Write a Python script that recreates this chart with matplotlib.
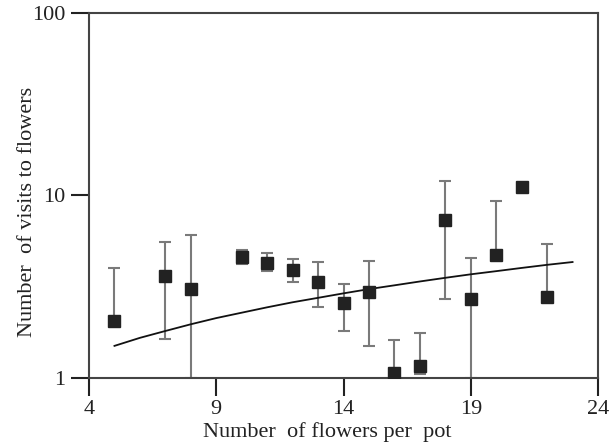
import matplotlib
matplotlib.use('Agg')
import matplotlib.pyplot as plt
import matplotlib.ticker as mticker
import numpy as np

plt.rcParams['font.family'] = ['Liberation Serif', 'DejaVu Serif']

# mean visits per flower count, with error bar ends
flowers = [5, 7, 8, 10, 11, 12, 13, 14, 15, 16, 17, 18, 19, 20, 21, 22]
visits = [2.05, 3.62, 3.07, 4.6, 4.27, 3.9, 3.36, 2.58, 2.96, 1.06, 1.16, 7.34, 2.71, 4.72, 11.1, 2.78]
err_top = [4.0, 5.56, 6.08, 5.03, 4.84, 4.49, 4.32, 3.27, 4.38, 1.62, 1.77, 12.0, 4.54, 9.33, 11.6, 5.42]
err_bottom = [2.05, 1.64, 1.0, 4.2, 3.86, 3.36, 2.45, 1.81, 1.5, 1.06, 1.05, 2.71, 1.0, 4.72, 10.6, 2.78]

# fitted trend line, read at each integer x
fit_x = [5, 6, 7, 8, 9, 10, 11, 12, 13, 14, 15, 16, 17, 18, 19, 20, 21, 22, 23]
fit_y = [1.50, 1.66, 1.81, 1.97, 2.13, 2.28, 2.44, 2.60, 2.75, 2.91, 3.07,
         3.22, 3.38, 3.54, 3.70, 3.85, 4.01, 4.17, 4.32]

fig = plt.figure(figsize=(6.16, 4.43), dpi=100)
ax = fig.add_axes([0.1445, 0.1467, 0.8263, 0.824])

v = np.array(visits)
yerr = [v - np.array(err_bottom), np.array(err_top) - v]
ax.errorbar(flowers, visits, yerr=yerr, fmt='none', ecolor='#7a7a7a',
            elinewidth=1.5, capsize=4, capthick=1.5, zorder=2)
ax.plot(flowers, visits, 's', color='#222222', markersize=9, zorder=3)
ax.plot(fit_x, fit_y, color='#111111', linewidth=1.3, zorder=2)

ax.set_yscale('log')
ax.set_xlim(4, 24)
ax.set_ylim(1, 100)
ax.set_xticks([4, 9, 14, 19, 24])
ax.set_yticks([1, 10, 100], ['1', '10', '100'])
ax.yaxis.set_minor_locator(mticker.NullLocator())

for s in ax.spines.values():
    s.set_color('#444444')
    s.set_linewidth(1.5)
ax.tick_params(axis='both', which='major', direction='out', length=13, width=1.5,
               color='#222222', labelsize=16, labelcolor='#222222')
ax.tick_params(axis='x', pad=3)
ax.tick_params(axis='y', pad=4)

ax.set_xlabel('Number  of flowers per  pot', fontsize=16, color='#222222')
ax.set_ylabel('Number  of visits to flowers', fontsize=16, color='#222222')
ax.xaxis.set_label_coords(0.468, -0.122)
ax.yaxis.set_label_coords(-0.103, 0.455)

fig.savefig('out.png', dpi=100)
